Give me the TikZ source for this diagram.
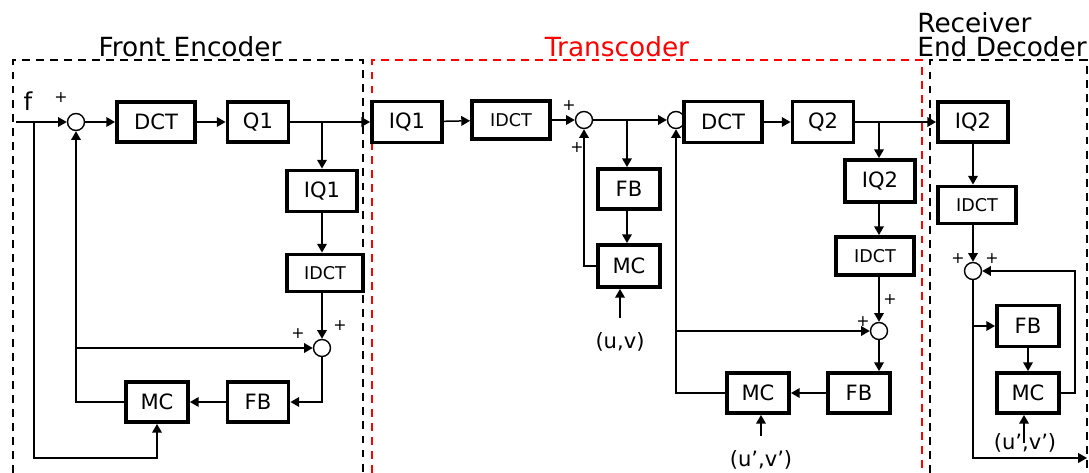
\documentclass[tikz,border=0pt]{standalone}
\usepackage{fontspec}
\setmainfont{DejaVu Sans}
\usetikzlibrary{positioning,arrows.meta,calc}

\begin{document}
\begin{tikzpicture}[
  x=0.02cm, y=-0.02cm,
  font=\fontsize{12}{14}\selectfont,
  box/.style={draw, line width=2.2pt, inner sep=0pt, minimum height=0.8cm},
  sumnode/.style={draw, circle, line width=0.8pt, minimum size=0.34cm, inner sep=0pt},
  arrow/.style={-{Triangle[length=5pt,width=5.5pt]}, line width=0.85pt},
  sign/.style={font=\fontsize{9}{9}\selectfont, inner sep=0pt},
  frame/.style={line width=1.3pt, dash pattern=on 4.5pt off 3.5pt},
  title/.style={font=\fontsize{15}{15}\selectfont, anchor=base, inner sep=0pt},
  small/.style={font=\fontsize{10}{12}\selectfont}
]
\useasboundingbox (0,0) rectangle (1089,473);

% frames
\draw [frame] (13,473) |- (363,60) -- (363,473);
\draw [frame, red] (372,473) |- (922,60) -- (922,473);
\draw [frame] (930,473) |- (1087,60) -- (1087,473);
\node (tfront) [title] at (190,57) {Front Encoder};
\node (ttrans) [title, red] at (617,57) {Transcoder};
\node (trecv) [title, anchor=base west] at (917,33) {Receiver};
\node (trecv2) [title, anchor=base west] at (917,57) {End Decoder};

% front encoder
\coordinate (fin) at (16,122);
\coordinate (fsplit) at (34,122);
\node (f) at (28,101) {\fontsize{14}{14}\selectfont f};
\node (s1) [sumnode] at (76,122) {};
\node (dct1) [box, minimum width=1.56cm] at (156,122) {DCT};
\node (q1) [box, minimum width=1.22cm] at (258,122) {Q1};
\node (iq1) [box, minimum width=1.4cm, minimum height=0.82cm] at (322,191) {IQ1};
\node (idct1) [box, small, minimum width=1.52cm, minimum height=0.74cm] at (325,273) {IDCT};
\node (s2) [sumnode] at (322,348) {};
\node (fb1) [box, minimum width=1.22cm] at (258,402) {FB};
\node (mc1) [box, minimum width=1.24cm] at (157,402) {MC};
\coordinate (fbot) at (157,458);
\node [sign] at (61,98) {+};
\node [sign] at (298,334) {+};
\node [sign] at (340,326) {+};

% transcoder
\node (iq1t) [box, minimum width=1.4cm, minimum height=0.82cm] at (407,122) {IQ1};
\node (idct2) [box, small, minimum width=1.56cm, minimum height=0.76cm] at (511,120) {IDCT};
\node (s3) [sumnode] at (584,120) {};
\node (s4) [sumnode] at (676,120) {};
\node (fb2) [box, minimum width=1.24cm] at (629,189) {FB};
\node (mc2) [box, minimum width=1.24cm, minimum height=0.84cm] at (629,266) {MC};
\node (uv2) at (620,342) {(u,v)};
\node (dct2) [box, minimum width=1.56cm, minimum height=0.82cm] at (723,122) {DCT};
\node (q2) [box, minimum width=1.22cm, minimum height=0.82cm] at (823,122) {Q2};
\node (iq2) [box, minimum width=1.4cm, minimum height=0.84cm] at (880,181) {IQ2};
\node (idct3) [box, small, minimum width=1.56cm, minimum height=0.76cm] at (875,256) {IDCT};
\node (s5) [sumnode] at (879,331) {};
\node (fb3) [box, minimum width=1.24cm] at (859,393) {FB};
\node (mc3) [box, minimum width=1.24cm] at (758,393) {MC};
\node (uv3) at (761,460) {(u',v')};
\node [sign] at (569,106) {+};
\node [sign] at (577,148) {+};
\node [sign] at (890,300) {+};
\node [sign] at (863,322) {+};

% receiver end decoder
\node (iq2r) [box, minimum width=1.4cm] at (973,122) {IQ2};
\node (idct4) [box, small, minimum width=1.56cm, minimum height=0.74cm] at (977,205) {IDCT};
\node (s6) [sumnode] at (973,271) {};
\node (fb4) [box, minimum width=1.24cm, minimum height=0.82cm] at (1028,326) {FB};
\node (mc4) [box, minimum width=1.24cm] at (1028,393) {MC};
\node (uv4) at (1025,443) {(u',v')};
\coordinate (rout) at (1087,458);
\node [sign] at (958,259) {+};
\node [sign] at (992,259) {+};

% front encoder connectors
\draw [arrow] (fin) -- (s1);
\draw [arrow] (s1) -- (dct1);
\draw [arrow] (dct1) -- (q1);
\draw [arrow] (q1) -- (iq1t);
\draw [arrow] (iq1.north |- q1.east) -- (iq1);
\draw [arrow] (iq1.south) -- (iq1.south |- idct1.north);
\draw [arrow] (idct1.south -| s2) -- (s2);
\draw [arrow] (s2) |- (fb1);
\draw [arrow] (fb1) -- (mc1);
\draw [arrow] (mc1.west) -| (s1.south);
\draw [arrow] (s1.south |- s2.west) -- (s2.west);
\draw [arrow] (fsplit) |- (fbot) -- (mc1.south);

% transcoder connectors
\draw [arrow] (iq1t) -- (idct2);
\draw [arrow] (idct2) -- (s3);
\draw [arrow] (s3) -- (s4);
\draw [arrow] (s3.east -| 627,0) -- (627,0 |- fb2.north);
\draw [arrow] (627,0 |- fb2.south) -- (627,0 |- mc2.north);
\draw [arrow] (mc2.west) -| (s3.south);
\draw [arrow] ([yshift=5pt]uv2.north) -- (uv2.north |- mc2.south);
\draw [arrow] (dct2) -- (q2);
\draw [arrow] (q2) -- (iq2r);
\draw [arrow] (s5.north |- q2.east) -- (s5.north |- iq2.north);
\draw [arrow] (s5.north |- iq2.south) -- (s5.north |- idct3.north);
\draw [arrow] (s5.north |- idct3.south) -- (s5);
\draw [arrow] (s4.south |- s5.west) -- (s5.west);
\draw [arrow] (s5) -- (s5 |- fb3.north);
\draw [arrow] (fb3) -- (mc3);
\draw [arrow] (mc3.west) -| (s4.south);
\draw [arrow] ([yshift=5pt]uv3.north) -- (uv3.north |- mc3.south);

% receiver connectors
\draw [arrow] (iq2r.south) -- (iq2r.south |- idct4.north);
\draw [arrow] (s6 |- idct4.south) -- (s6);
\draw [arrow] (s6) |- (rout);
\draw [arrow] (s6.south |- fb4.west) -- (fb4.west);
\draw [arrow] (fb4) -- (mc4);
\draw [arrow] (mc4.east) -- ++(14,0) |- (s6.east);
\draw [arrow] (1024,0 |- uv4.center) -- (1024,0 |- mc4.south);

\end{tikzpicture}
\end{document}
